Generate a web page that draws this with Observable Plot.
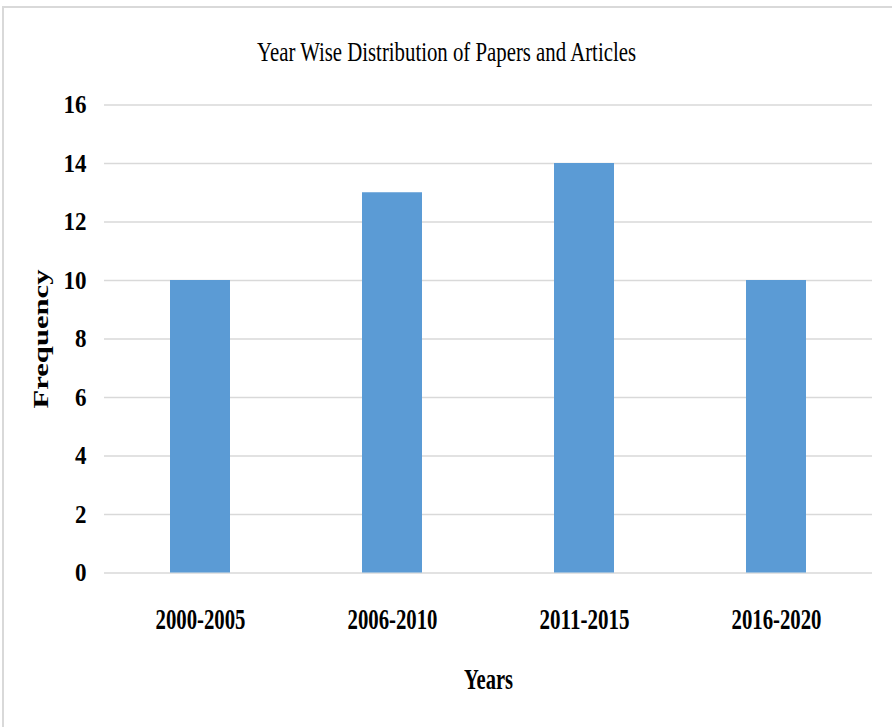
<!DOCTYPE html>
<html>
<head>
<meta charset="utf-8">
<script src="https://cdn.jsdelivr.net/npm/d3@7"></script>
<script src="https://cdn.jsdelivr.net/npm/@observablehq/plot@0.6"></script>
<style>
  html, body { margin: 0; padding: 0; background: #fff; overflow: hidden; }
  #wrap { position: relative; width: 892px; height: 727px; overflow: hidden; }
  #border { position: absolute; left: 2px; top: 6px; width: 1000px; height: 1000px;
            border: 2.5px solid #d9d9d9; box-sizing: border-box; pointer-events: none; }
</style>
</head>
<body>
<div id="wrap"><div id="border"></div></div>
<script>
const categories = ["2000-2005", "2006-2010", "2011-2015", "2016-2020"];
const frequencies = [10, 13, 14, 10];
const yTicks = [0, 2, 4, 6, 8, 10, 12, 14, 16];
const titleText = "Year Wise Distribution of Papers and Articles";
const xLabel = "Years";
const yLabel = "Frequency";

const data = categories.map((c, i) => ({category: c, value: frequencies[i]}));
const font = "'Liberation Serif', 'Times New Roman', serif";

const chart = Plot.plot({
  width: 892,
  height: 727,
  marginLeft: 104,
  marginRight: 20,
  marginTop: 104.5,
  marginBottom: 154.5,
  style: {fontFamily: font, background: "transparent", overflow: "visible"},
  x: {type: "band", domain: categories, paddingInner: 0.6875, paddingOuter: 0.34375, axis: null},
  y: {domain: [0, 16], axis: null},
  marks: [
    Plot.gridY(yTicks, {stroke: "#d9d9d9", strokeOpacity: 1, strokeWidth: 1.6}),
    Plot.barY(data, {x: "category", y: "value", fill: "#5b9bd5"}),
    Plot.axisY(yTicks, {anchor: "left", tickSize: 0, tickPadding: 18, fontSize: 26, fontWeight: "bold", fill: "#000", label: null}),
    Plot.axisX(categories, {anchor: "bottom", tickSize: 0, tickPadding: 34.5, fontSize: 30, fontWeight: "bold", fill: "#000", label: null}),
    Plot.text([titleText], {frameAnchor: "top", lineAnchor: "middle", textAnchor: "middle", dy: -53, dx: -42, fontSize: 27, fill: "#000"}),
    Plot.text([xLabel], {frameAnchor: "bottom", lineAnchor: "middle", textAnchor: "middle", dy: 106, fontSize: 30, fontWeight: "bold", fill: "#000"}),
    Plot.text([yLabel], {frameAnchor: "left", lineAnchor: "middle", textAnchor: "middle", dx: -63.7, rotate: -90, fontSize: 21, fontWeight: "bold", fill: "#000"})
  ]
});

document.getElementById("wrap").prepend(chart);

chart.querySelectorAll("text").forEach(t => {
  const s = t.textContent.trim();
  let len = null;
  if (categories.includes(s)) len = 90;
  else if (yTicks.map(String).includes(s)) len = 11.5 * s.length;
  else if (s === titleText) len = 379;
  else if (s === xLabel) len = 49;
  else if (s === yLabel) len = 139;
  if (len != null) {
    t.setAttribute("textLength", len);
    t.setAttribute("lengthAdjust", "spacingAndGlyphs");
  }
});
</script>
</body>
</html>
